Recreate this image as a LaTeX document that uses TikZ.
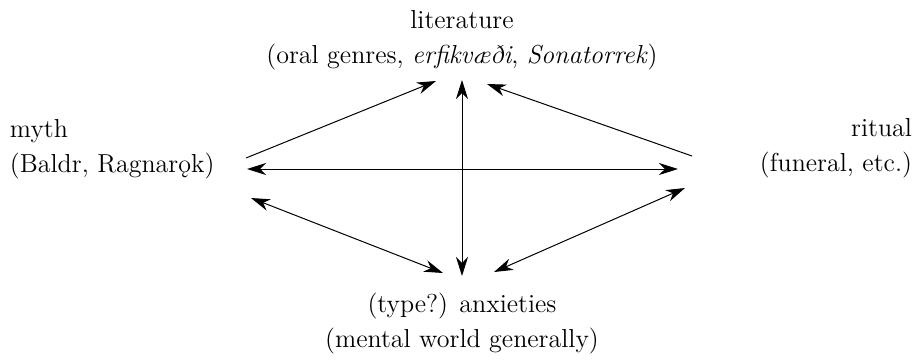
\documentclass[tikz,border=0pt]{standalone}
\usepackage{fontspec}
\usetikzlibrary{arrows.meta}

\begin{document}
\begin{tikzpicture}[x=0.5pt,y=-0.5pt,
  lbl/.style={inner sep=0pt, outer sep=0pt, font=\fontsize{13}{15}\selectfont},
  tip/.tip={Stealth[length=9.5pt,width=6pt,inset=3pt]},
  oneway/.style={line width=0.5pt, -tip},
  twoway/.style={line width=0.5pt, tip-tip}]
  \useasboundingbox (0,0) rectangle (917,360);

  % labels, one node per printed line
  \node[lbl, anchor=base] (lit) at (462,28) {literature};
  \node[lbl, anchor=base] (litsub) at (462,63)
    {(oral genres, \textit{erfikvæði}, \textit{Sonatorrek})};
  \node[lbl, anchor=base west] (myth) at (10,137) {myth};
  \node[lbl, anchor=base west] (mythsub) at (10,172) {(Baldr, Ragnarǫk)};
  \node[lbl, anchor=base east] (rit) at (912,136) {ritual};
  \node[lbl, anchor=base east] (ritsub) at (912,171) {(funeral, etc.)};
  \node[lbl, anchor=base] (anx) at (462,312) {(type?) anxieties};
  \node[lbl, anchor=base] (anxsub) at (462,347) {(mental world generally)};

  % connector end points around the four labels
  \coordinate (myUp)   at (246,158);
  \coordinate (myMid)  at (247,169);
  \coordinate (myLow)  at (251,198);
  \coordinate (ritUp)  at (692,156);
  \coordinate (ritMid) at (678,169);
  \coordinate (ritLow) at (685,188);
  \coordinate (litL)   at (436,81);
  \coordinate (litM)   at (462,80);
  \coordinate (litR)   at (487,84);
  \coordinate (anxL)   at (443,273);
  \coordinate (anxM)   at (462,276);
  \coordinate (anxR)   at (494,272);

  \draw[oneway] (myUp) -- (litL);
  \draw[oneway] (ritUp) -- (litR);
  \draw[twoway] (litM) -- (anxM);
  \draw[twoway] (myMid) -- (ritMid);
  \draw[twoway] (myLow) -- (anxL);
  \draw[twoway] (ritLow) -- (anxR);
\end{tikzpicture}
\end{document}
